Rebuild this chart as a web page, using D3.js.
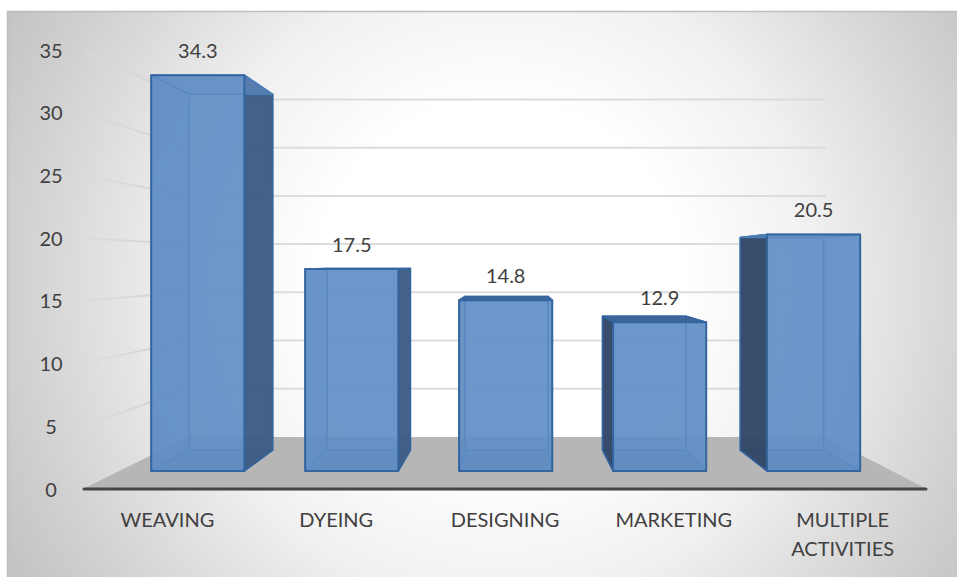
<!DOCTYPE html>
<html>
<head>
<meta charset="utf-8">
<script src="https://cdn.jsdelivr.net/npm/d3@7"></script>
<style>
  html, body { margin: 0; padding: 0; background: #fff; }
  svg { display: block; }
  text { font-family: Lato, "Open Sans", sans-serif; fill: #404040; }
</style>
</head>
<body>
<svg id="chart" width="957" height="577"></svg>
<script>
// Chart content
const categories = ["WEAVING", "DYEING", "DESIGNING", "MARKETING", "MULTIPLE ACTIVITIES"];
const values = [34.3, 17.5, 14.8, 12.9, 20.5];
const valueLabels = ["34.3", "17.5", "14.8", "12.9", "20.5"];
const yTicks = [0, 5, 10, 15, 20, 25, 30, 35];

const width = 957, height = 577;

// Front plane of the 3D box, plus a one-point perspective towards the vanishing point
const x = d3.scaleBand().domain(categories).range([83, 927]).paddingInner(0.395).paddingOuter(0.1975);
const y = d3.scaleLinear().domain([0, 35]).range([489, 50]);
const vanish = { x: 513, y: 264 };
const wall = { sx: 0.756, sy: 0.769 };          // shrink factors on the back wall
const front = { sx: 0.912, sy: 0.92 };          // shrink factors on the bar's near face
const rear = { sx: 0.816, sy: 0.827 };          // shrink factors on the bar's far face

const project = (px, py, s) => [
  vanish.x + (px - vanish.x) * s.sx,
  vanish.y + (py - vanish.y) * s.sy
];
const poly = pts => pts.map(p => p.join(",")).join(" ");

const svg = d3.select("#chart");
const defs = svg.append("defs");

// Panel background
const bg = defs.append("radialGradient").attr("id", "panelFill")
  .attr("gradientUnits", "userSpaceOnUse")
  .attr("cx", 500).attr("cy", 285).attr("r", 610);
[[0, "#ffffff"], [0.3, "#ffffff"], [0.52, "#f0f0f0"], [0.8, "#d0d0d0"], [1, "#bcbcbc"]]
  .forEach(([o, c]) => bg.append("stop").attr("offset", o).attr("stop-color", c));

// Side wall gridlines fade towards the axis labels
const wallLine = defs.append("linearGradient").attr("id", "wallLine")
  .attr("gradientUnits", "userSpaceOnUse")
  .attr("x1", 83).attr("x2", 188).attr("y1", 0).attr("y2", 0);
wallLine.append("stop").attr("offset", 0).attr("stop-color", "#dadada").attr("stop-opacity", 0.6);
wallLine.append("stop").attr("offset", 0.6).attr("stop-color", "#d6d6d6").attr("stop-opacity", 1);

svg.append("rect").attr("x", 7).attr("y", 11).attr("width", width - 7).attr("height", height - 11)
  .attr("fill", "url(#panelFill)");
svg.append("path").attr("d", `M7.5,${height}V11.5H${width}`)
  .attr("fill", "none").attr("stroke", "#bdbdbd").attr("stroke-width", 1.5);

const [xMin, xMax] = x.range();

// Floor
svg.append("polygon").attr("fill", "#b6b6b6")
  .attr("points", poly([[xMin, y(0)], project(xMin, y(0), wall),
                        project(xMax, y(0), wall), [xMax, y(0)]]));

// Gridlines: back wall and left wall
const grid = svg.append("g").attr("fill", "none").attr("stroke-width", 2);
yTicks.filter(t => t > 0).forEach(t => {
  const a = project(xMin, y(t), wall);
  const b = project(xMax, y(t), wall);
  grid.append("line").attr("x1", a[0]).attr("y1", a[1]).attr("x2", b[0]).attr("y2", b[1])
    .attr("stroke", "#dcdcdc");
  grid.append("line").attr("x1", xMin).attr("y1", y(t)).attr("x2", a[0]).attr("y2", a[1])
    .attr("stroke", "url(#wallLine)");
});

// Bars, rear faces first so the translucent front sits on top
const edge = "#34659f", innerEdge = "#4a7dba";
categories.forEach((c, i) => {
  const x0 = x(c), x1 = x0 + x.bandwidth();
  const yb = y(0), yt = y(values[i]);
  const f = (px, py) => project(px, py, front);
  const k = (px, py) => project(px, py, rear);
  const g = svg.append("g").attr("stroke-linejoin", "round");
  const face = (pts, fill, opacity, stroke, sw) => g.append("polygon")
    .attr("points", poly(pts)).attr("fill", fill).attr("fill-opacity", opacity)
    .attr("stroke", stroke).attr("stroke-width", sw);

  // far face and floor of the bar
  face([k(x0, yt), k(x1, yt), k(x1, yb), k(x0, yb)], "#6c94c8", 0.55, innerEdge, 1.5);
  face([f(x0, yb), f(x1, yb), k(x1, yb), k(x0, yb)], "#4f7db8", 0.55, innerEdge, 1.5);

  // side faces: dark where they face the viewer, blue when seen through the bar
  const rightOut = f(x1, yb)[0] < k(x1, yb)[0];
  const leftOut = f(x0, yb)[0] > k(x0, yb)[0];
  const rightFace = [f(x1, yt), k(x1, yt), k(x1, yb), f(x1, yb)];
  const leftFace = [f(x0, yt), k(x0, yt), k(x0, yb), f(x0, yb)];
  face(rightFace, rightOut ? "#3c5a80" : "#6c94c8", rightOut ? 0.92 : 0.6, rightOut ? edge : innerEdge, 1.5);
  face(leftFace, leftOut ? "#2f4563" : "#5a88c0", leftOut ? 0.93 : 0.6, leftOut ? edge : innerEdge, 1.5);

  // top face
  const topAbove = k(x0, yt)[1] < f(x0, yt)[1];
  face([f(x0, yt), f(x1, yt), k(x1, yt), k(x0, yt)],
       topAbove ? "#3a6298" : "#5f8cc5", topAbove ? 0.95 : 0.6, topAbove ? edge : innerEdge, 1.5);

  // front face
  face([f(x0, yt), f(x1, yt), f(x1, yb), f(x0, yb)], "#5f8cc4", 0.82, edge, 2);
});

// Axis baseline
svg.append("line").attr("x1", xMin + 1).attr("x2", xMax - 1).attr("y1", y(0)).attr("y2", y(0))
  .attr("stroke", "#454545").attr("stroke-width", 3).attr("stroke-linecap", "round");

// Value axis labels
svg.append("g").selectAll("text").data(yTicks).join("text")
  .attr("x", 51).attr("y", d => y(d) + 0.5).attr("dy", "0.35em")
  .attr("text-anchor", "middle").attr("font-size", 20).text(d => d);

// Category labels, wrapped onto two lines where needed
svg.append("g").selectAll("text").data(categories).join("text")
  .attr("text-anchor", "middle").attr("font-size", 20)
  .each(function (d) {
    const cx = x(d) + x.bandwidth() / 2;
    d.split(" ").forEach((w, j) => {
      d3.select(this).append("tspan").attr("x", cx).attr("y", 527 + j * 29).text(w);
    });
  });

// Value labels above each bar's front face
svg.append("g").selectAll("text").data(categories).join("text")
  .attr("text-anchor", "middle").attr("font-size", 20)
  .attr("x", d => project(x(d) + x.bandwidth() / 2, 0, front)[0])
  .attr("y", (d, i) => project(0, y(values[i]), front)[1] - 24.5)
  .attr("dy", "0.35em")
  .text((d, i) => valueLabels[i]);
</script>
</body>
</html>
